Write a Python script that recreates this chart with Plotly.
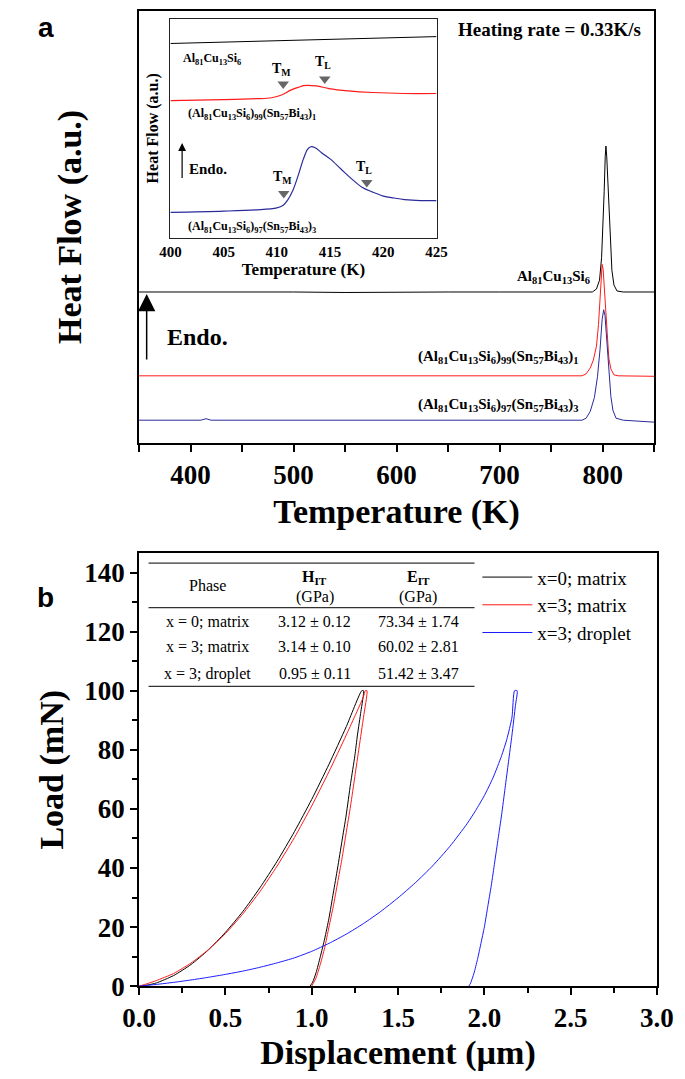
import plotly.graph_objects as go

W, H = 685, 1079
def px(x): return x / W
def py(y): return 1 - y / H

SERIF = "Liberation Serif"
SANS = "Liberation Sans"

# ---------------- Panel a: DSC main curves ----------------
temp_black = [350, 400, 415, 450, 500, 550, 600, 650, 700, 750, 780, 790, 794, 797, 799, 800.5, 801.5, 802.5, 803.2, 804, 805, 806, 807.5, 809, 811, 814, 820, 850]
hf_black   = [15.3, 15.3, 15.35, 15.3, 15.3, 15.25, 15.3, 15.3, 15.3, 15.3, 15.3, 15.3, 15.6, 16.5, 18.8, 22.0, 25.5, 29.0, 30.1, 29.0, 26.5, 23.5, 20.0, 17.5, 16.0, 15.4, 15.3, 15.3]

temp_red = [350, 400, 415, 450, 500, 550, 600, 650, 700, 750, 780, 784, 788, 791, 794, 796, 797.5, 798.7, 799.5, 800.5, 801.5, 803, 804.5, 806, 808, 811, 815, 850]
hf_red   = [6.8, 6.8, 6.85, 6.8, 6.8, 6.8, 6.8, 6.8, 6.8, 6.8, 6.8, 7.0, 7.6, 8.4, 9.8, 12.0, 14.8, 17.2, 18.1, 17.6, 16.0, 13.2, 10.5, 8.6, 7.5, 6.9, 6.8, 6.75]

temp_blue = [350, 400, 410, 415, 420, 450, 500, 550, 600, 650, 700, 750, 780, 784, 788, 792, 795, 797.5, 799.5, 801, 802.3, 803.5, 805, 806.5, 808, 810, 813, 820, 840, 850]
hf_blue   = [2.3, 2.3, 2.3, 2.45, 2.3, 2.3, 2.3, 2.3, 2.3, 2.3, 2.3, 2.3, 2.3, 2.5, 3.2, 4.6, 6.7, 9.5, 12.5, 13.5, 12.9, 11.2, 8.8, 6.5, 4.7, 3.3, 2.5, 2.3, 2.2, 2.1]

# ---------------- Panel a: inset (400-425 K) ----------------
ins_temp_black = [400, 405, 410, 415, 420, 425]
ins_hf_black   = [19.7, 19.84, 19.98, 20.12, 20.26, 20.4]

ins_temp_red = [400, 405, 408, 409.5, 410.5, 411.3, 412, 412.5, 413.7, 414.9, 416.7, 419, 422, 425]
ins_hf_red   = [13.9, 14.0, 14.1, 14.2, 14.5, 14.97, 15.25, 15.43, 15.4, 15.13, 14.9, 14.73, 14.63, 14.63]

ins_temp_blue = [400, 405, 408, 410, 410.6, 411, 411.5, 412, 412.5, 412.9, 413.2, 413.6, 414.2, 415, 416, 417, 418, 419, 420, 421, 422, 423.5, 425]
ins_hf_blue   = [2.57, 2.7, 2.83, 3.03, 3.3, 3.8, 4.8, 6.3, 8.0, 9.0, 9.23, 9.13, 8.63, 8.0, 7.0, 6.0, 5.13, 4.63, 4.23, 4.03, 3.87, 3.77, 3.77]

# T_M / T_L markers in inset
mark_temp = [410.6, 414.5, 410.65, 418.45]
mark_hf   = [15.6, 16.1, 4.5, 5.6]
mark_text = ["T<sub>M</sub>", "T<sub>L</sub>", "T<sub>M</sub>", "T<sub>L</sub>"]
mark_text_x = [410.4, 414.3, 410.5, 418.2]
mark_text_y = [17.1, 17.8, 6.1, 7.1]

# ---------------- Panel b: nanoindentation ----------------
disp_x0 = [0, 0.05, 0.1, 0.2, 0.3, 0.4, 0.5, 0.6, 0.7, 0.8, 0.9, 1.0, 1.1, 1.2, 1.29,
           1.30, 1.285, 1.265, 1.25, 1.225, 1.2, 1.175, 1.15, 1.125, 1.1, 1.075, 1.05, 1.025, 1.005, 0.99]
load_x0 = [0, 0.4, 1.1, 3.6, 7.3, 12.2, 18.2, 25.2, 33.3, 42.3, 52.3, 63.2, 75.1, 87.8, 100,
           100, 93, 85, 78, 68.5, 58, 49, 40, 31.5, 23, 16, 10, 4.5, 1.3, 0]

disp_x3m = [0, 0.05, 0.1, 0.2, 0.3, 0.4, 0.5, 0.6, 0.7, 0.8, 0.9, 1.0, 1.1, 1.2, 1.3, 1.31,
            1.32, 1.30, 1.275, 1.25, 1.225, 1.2, 1.175, 1.15, 1.125, 1.1, 1.075, 1.05, 1.025, 1.0]
load_x3m = [0, 0.9, 1.9, 4.3, 7.8, 12.3, 17.8, 24.4, 32.0, 40.7, 50.3, 61.0, 72.6, 85.0, 98.0, 100,
            100, 91, 81, 71, 61, 52, 43, 35, 27, 20, 13, 7.4, 2.8, 0]

disp_x3d = [0, 0.1, 0.2, 0.3, 0.4, 0.5, 0.6, 0.7, 0.8, 0.9, 1.0, 1.1, 1.2, 1.3, 1.4, 1.5, 1.6, 1.7, 1.8, 1.9, 1.95, 2.0, 2.05, 2.1, 2.13, 2.16, 2.175,
            2.19, 2.18, 2.16, 2.14, 2.12, 2.10, 2.08, 2.06, 2.04, 2.02, 2.0, 1.98, 1.96, 1.94, 1.92, 1.91]
load_x3d = [0, 0.6, 1.3, 2.1, 3.0, 4.0, 5.1, 6.4, 7.9, 9.6, 11.8, 14.5, 17.6, 21.2, 25.3, 29.9, 35.0, 40.7, 47.3, 55.0, 59.5, 64.5, 70.5, 78.0, 83.5, 91.0, 100,
            100, 95, 85, 76, 67, 58, 50, 42, 34, 27, 20, 14.4, 9, 4.4, 1, 0]

legend_names = ["x=0; matrix", "x=3; matrix", "x=3; droplet"]

table_header = ["Phase", "H<sub>IT</sub>", "E<sub>IT</sub>", "(GPa)"]
table_phase = ["x = 0; matrix", "x = 3; matrix", "x = 3; droplet"]
table_H = ["3.12 ± 0.12", "3.14 ± 0.10", "0.95 ± 0.11"]
table_E = ["73.34 ± 1.74", "60.02 ± 2.81", "51.42 ± 3.47"]

# ---------------- Figure ----------------
fig = go.Figure()

# panel a main
fig.add_trace(go.Scatter(x=temp_black, y=hf_black, mode="lines", line=dict(color="#000000", width=1), showlegend=False, xaxis="x", yaxis="y"))
fig.add_trace(go.Scatter(x=temp_red, y=hf_red, mode="lines", line=dict(color="#ff1a1a", width=1), showlegend=False, xaxis="x", yaxis="y"))
fig.add_trace(go.Scatter(x=temp_blue, y=hf_blue, mode="lines", line=dict(color="#2a2a9a", width=1), showlegend=False, xaxis="x", yaxis="y"))

# inset
fig.add_trace(go.Scatter(x=ins_temp_black, y=ins_hf_black, mode="lines", line=dict(color="#000000", width=1), showlegend=False, xaxis="x2", yaxis="y2"))
fig.add_trace(go.Scatter(x=ins_temp_red, y=ins_hf_red, mode="lines", line=dict(color="#ff1a1a", width=1.2, shape="spline"), showlegend=False, xaxis="x2", yaxis="y2"))
fig.add_trace(go.Scatter(x=ins_temp_blue, y=ins_hf_blue, mode="lines", line=dict(color="#2a2a9a", width=1.2, shape="spline"), showlegend=False, xaxis="x2", yaxis="y2"))
fig.add_trace(go.Scatter(x=mark_temp, y=mark_hf, mode="markers", marker=dict(symbol="triangle-down", size=10, color="#666666"), showlegend=False, xaxis="x2", yaxis="y2"))

# panel b
fig.add_trace(go.Scatter(x=disp_x0, y=load_x0, mode="lines", name=legend_names[0], line=dict(color="#000000", width=1, shape="spline", smoothing=0.6), xaxis="x3", yaxis="y3"))
fig.add_trace(go.Scatter(x=disp_x3m, y=load_x3m, mode="lines", name=legend_names[1], line=dict(color="#ff1a1a", width=1, shape="spline", smoothing=0.6), xaxis="x3", yaxis="y3"))
fig.add_trace(go.Scatter(x=disp_x3d, y=load_x3d, mode="lines", name=legend_names[2], line=dict(color="#1a1aff", width=1, shape="spline", smoothing=0.6), xaxis="x3", yaxis="y3"))

tickfont_big = dict(family=SERIF, size=27, color="black", weight="bold")
titlefont_big = dict(family=SERIF, size=34, color="black", weight="bold")

annotations = []
def ann(text, x, y, xref="paper", yref="paper", size=15, xanchor="center", yanchor="middle", family=SERIF, bold=True, color="black"):
    annotations.append(dict(text=text, x=x, y=y, xref=xref, yref=yref, showarrow=False,
                            xanchor=xanchor, yanchor=yanchor,
                            font=dict(family=family, size=size, color=color, weight="bold" if bold else "normal")))

# panel letters
ann("a", px(22), py(20), size=28, family=SANS)
ann("b", px(22), py(598), size=28, family=SANS)
ann("Heating rate = 0.33K/s", px(552), py(22), size=19)

# main curve labels (data coords on panel a)
ann("Al<sub>81</sub>Cu<sub>13</sub>Si<sub>6</sub>", 790, 16.8, "x", "y", size=15, xanchor="right")
ann("(Al<sub>81</sub>Cu<sub>13</sub>Si<sub>6</sub>)<sub>99</sub>(Sn<sub>57</sub>Bi<sub>43</sub>)<sub>1</sub>", 779, 8.7, "x", "y", size=15, xanchor="right")
ann("(Al<sub>81</sub>Cu<sub>13</sub>Si<sub>6</sub>)<sub>97</sub>(Sn<sub>57</sub>Bi<sub>43</sub>)<sub>3</sub>", 779, 3.8, "x", "y", size=15, xanchor="right")
ann("Endo.", 375.5, 10.7, "x", "y", size=24, xanchor="left")
annotations.append(dict(x=357.4, y=15.1, ax=357.4, ay=8.3, xref="x", yref="y", axref="x", ayref="y",
                        showarrow=True, arrowhead=2, arrowsize=2.3, arrowwidth=1.5, arrowcolor="black", text=""))

# inset labels
ann("Al<sub>81</sub>Cu<sub>13</sub>Si<sub>6</sub>", 401.0, 18.1, "x2", "y2", size=12, xanchor="left")
ann("(Al<sub>81</sub>Cu<sub>13</sub>Si<sub>6</sub>)<sub>99</sub>(Sn<sub>57</sub>Bi<sub>43</sub>)<sub>1</sub>", 401.5, 12.6, "x2", "y2", size=12, xanchor="left")
ann("(Al<sub>81</sub>Cu<sub>13</sub>Si<sub>6</sub>)<sub>97</sub>(Sn<sub>57</sub>Bi<sub>43</sub>)<sub>3</sub>", 401.5, 1.1, "x2", "y2", size=12, xanchor="left")
ann("Endo.", 401.6, 7.0, "x2", "y2", size=15, xanchor="left")
annotations.append(dict(x=401.1, y=9.6, ax=401.1, ay=5.9, xref="x2", yref="y2", axref="x2", ayref="y2",
                        showarrow=True, arrowhead=2, arrowsize=1.3, arrowwidth=1.2, arrowcolor="black", text=""))
for t, xx, yy in zip(mark_text, mark_text_x, mark_text_y):
    ann(t, xx, yy, "x2", "y2", size=14)

# table (panel b)
col_x = [192, 305, 414]
ann(table_header[0], px(col_x[0]), py(586), size=16, bold=False)
ann(table_header[1], px(col_x[1]), py(578), size=16)
ann(table_header[3], px(col_x[1]), py(597), size=16, bold=False)
ann(table_header[2], px(col_x[2]), py(578), size=16)
ann(table_header[3], px(col_x[2]), py(597), size=16, bold=False)
row_y = [622, 648, 675]
for i in range(3):
    ann(table_phase[i], px(col_x[0]), py(row_y[i]), size=16, bold=False)
    ann(table_H[i], px(col_x[1]), py(row_y[i]), size=16, bold=False)
    ann(table_E[i], px(col_x[2]), py(row_y[i]), size=16, bold=False)

shapes = []
for yy in [563, 608, 688]:
    shapes.append(dict(type="line", xref="paper", yref="paper", x0=px(130), x1=px(473), y0=py(yy), y1=py(yy),
                       line=dict(color="#333333", width=1.2)))

axis_common = dict(showline=True, mirror=True, linecolor="black", linewidth=1.6, showgrid=False, zeroline=False)
inset_font = dict(family=SERIF, size=17, color="black", weight="bold")

fig.update_layout(
    width=W, height=H,
    margin=dict(l=0, r=0, t=0, b=0),
    paper_bgcolor="white", plot_bgcolor="white",
    xaxis=dict(domain=[px(120), px(662)], anchor="y", range=[350, 850], dtick=100, tick0=0,
               ticks="outside", ticklen=7, tickwidth=1.5, tickcolor="black",
               minor=dict(dtick=50, ticks="outside", ticklen=7, tickwidth=1.5, tickcolor="black"),
               tickfont=tickfont_big,
               title=dict(text="Temperature (K)", font=titlefont_big, standoff=10), **axis_common),
    yaxis=dict(domain=[py(441), py(3)], anchor="x", range=[0, 43.8], showticklabels=False, ticks="",
               title=dict(text="Heat Flow (a.u.)", font=titlefont_big, standoff=45), **axis_common),
    xaxis2=dict(domain=[px(153), px(433)], anchor="y2", range=[400, 425], dtick=5, ticks="",
                tickfont=dict(family=SERIF, size=15, color="black", weight="bold"),
                title=dict(text="Temperature (K)", font=inset_font, standoff=4),
                showline=True, mirror=True, linecolor="#222222", linewidth=1, showgrid=False, zeroline=False),
    yaxis2=dict(domain=[py(233), py(11)], anchor="x2", range=[0, 22.2], showticklabels=False, ticks="",
                title=dict(text="Heat Flow (a.u.)", font=dict(family=SERIF, size=16, color="black", weight="bold"), standoff=6),
                showline=True, mirror=True, linecolor="#222222", linewidth=1, showgrid=False, zeroline=False),
    xaxis3=dict(domain=[px(120), px(665)], anchor="y3", range=[0, 3.0], dtick=0.5, tick0=0, tickformat=".1f",
                ticks="outside", ticklen=7, tickwidth=1.5, tickcolor="black",
                minor=dict(dtick=0.25, ticks="outside", ticklen=5, tickwidth=1.5, tickcolor="black"),
                tickfont=tickfont_big,
                title=dict(text="Displacement (µm)", font=titlefont_big, standoff=8), **axis_common),
    yaxis3=dict(domain=[py(992), py(553)], anchor="x3", range=[0, 146.5], dtick=20, tick0=0,
                ticks="outside", ticklen=7, tickwidth=1.5, tickcolor="black",
                minor=dict(dtick=10, ticks="outside", ticklen=5, tickwidth=1.5, tickcolor="black"),
                tickfont=tickfont_big,
                title=dict(text="Load (mN)", font=titlefont_big, standoff=10), **axis_common),
    legend=dict(x=px(476), y=py(558), xanchor="left", yanchor="top", bgcolor="rgba(0,0,0,0)",
                font=dict(family=SERIF, size=19, color="black"), itemwidth=50, tracegroupgap=0),
    annotations=annotations,
    shapes=shapes,
)

fig.write_html("out.html")
